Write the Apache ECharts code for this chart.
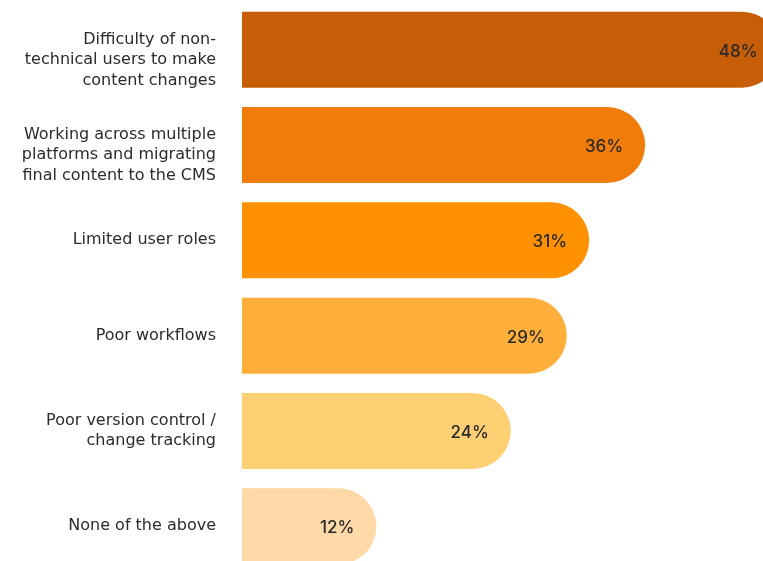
<!DOCTYPE html>
<html>
<head>
<meta charset="utf-8">
<script src="https://cdn.jsdelivr.net/npm/echarts@6/dist/echarts.min.js"></script>
<style>
  html, body { margin: 0; padding: 0; background: #ffffff; }
  #chart { width: 763px; height: 561px; }
</style>
</head>
<body>
<div id="chart"></div>
<script>
// Survey responses: content-management pain points (share of respondents, %)
const categories = [
  'Difficulty of non-\ntechnical users to make\ncontent changes',
  'Working across multiple\nplatforms and migrating\nfinal content to the CMS',
  'Limited user roles',
  'Poor workflows',
  'Poor version control /\nchange tracking',
  'None of the above'
];
const values = [48, 36, 31, 29, 24, 12];
const barColors = ['#C75D07', '#F07C0A', '#FF9102', '#FFAF3A', '#FFCF73', '#FFD9A7'];

const chart = echarts.init(document.getElementById('chart'), null, { renderer: 'canvas' });

chart.setOption({
  animation: false,
  backgroundColor: '#ffffff',
  grid: {
    left: 242, top: 2, width: 560, height: 572,
    containLabel: false,
    outerBoundsMode: 'none'
  },
  xAxis: {
    type: 'value',
    min: 0,
    max: 50,
    show: false
  },
  yAxis: {
    type: 'category',
    data: categories,
    inverse: true,
    axisLine: { show: false },
    axisTick: { show: false },
    splitLine: { show: false },
    axisLabel: {
      margin: 26,
      align: 'right',
      color: '#2b2b2b',
      fontFamily: 'DejaVu Sans',
      fontSize: 16,
      lineHeight: 20.5,
      // three-line labels hang half a line below the bar middle
      formatter: name => (name.split('\n').length >= 3 ? '\n' + name : name)
    }
  },
  series: [{
    type: 'bar',
    barWidth: 76,
    data: values.map((v, i) => ({
      value: v,
      itemStyle: { color: barColors[i] }
    })),
    itemStyle: { borderRadius: [0, 38, 38, 0] },
    label: {
      show: true,
      position: 'insideRight',
      distance: 22,
      offset: [0, 2],
      formatter: '{c}%',
      color: '#2a2a2a',
      fontFamily: 'Inter',
      fontWeight: 500,
      fontSize: 17
    }
  }]
});
</script>
</body>
</html>
